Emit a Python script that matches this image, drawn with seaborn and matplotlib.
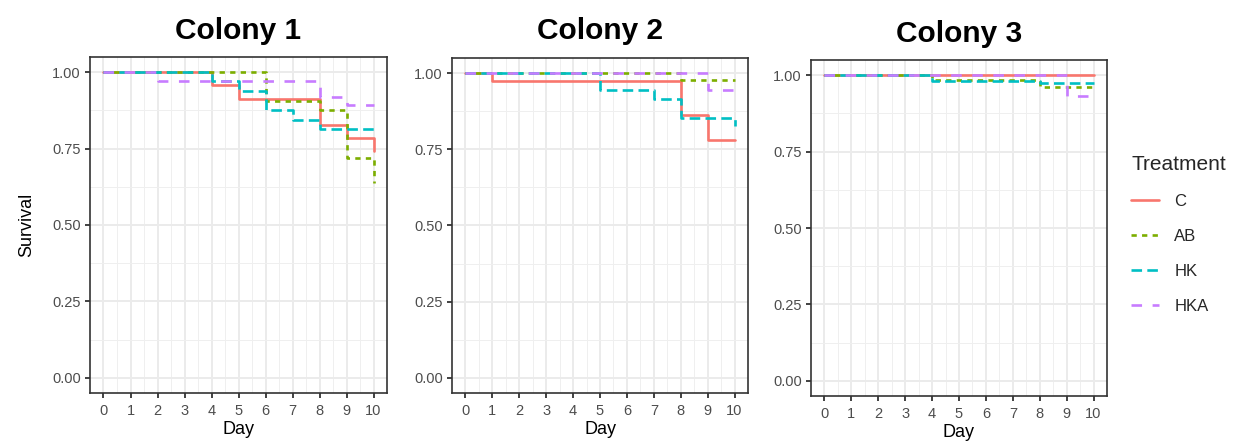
import numpy as np
import pandas as pd
import seaborn as sns
import matplotlib
matplotlib.use("Agg")
import matplotlib.pyplot as plt
from matplotlib.lines import Line2D
from matplotlib.ticker import FixedLocator

# ---------------- data ----------------
days = list(range(0, 11))
treatments = ["C", "AB", "HK", "HKA"]
colonies = ["Colony 1", "Colony 2", "Colony 3"]

c1_C   = [1, 1, 1, 1, 0.957, 0.914, 0.914, 0.914, 0.829, 0.785, 0.742]
c1_AB  = [1, 1, 1, 1, 1, 1, 0.906, 0.906, 0.878, 0.720, 0.636]
c1_HK  = [1, 1, 1, 1, 0.971, 0.939, 0.876, 0.845, 0.814, 0.814, 0.814]
c1_HKA = [1, 1, 0.972, 0.972, 0.972, 0.972, 0.972, 0.972, 0.919, 0.892, 0.892]

c2_C   = [1, 0.974, 0.974, 0.974, 0.974, 0.974, 0.974, 0.974, 0.862, 0.780, 0.780]
c2_AB  = [1, 1, 1, 1, 1, 1, 1, 1, 0.977, 0.977, 0.977]
c2_HK  = [1, 1, 1, 1, 1, 0.944, 0.944, 0.914, 0.854, 0.854, 0.827]
c2_HKA = [1, 1, 1, 1, 1, 1, 1, 1, 1, 0.944, 0.944]

c3_C   = [1, 1, 1, 1, 1, 1, 1, 1, 1, 1, 1]
c3_AB  = [1, 1, 1, 1, 0.984, 0.984, 0.984, 0.984, 0.960, 0.960, 0.960]
c3_HK  = [1, 1, 1, 1, 0.980, 0.980, 0.980, 0.980, 0.976, 0.976, 0.976]
c3_HKA = [1, 1, 1, 1, 1, 1, 1, 1, 1, 0.932, 0.932]

y_ticks = [0.0, 0.25, 0.50, 0.75, 1.00]
y_ticklabels = ["0.00", "0.25", "0.50", "0.75", "1.00"]

series = {
    "Colony 1": {"C": c1_C, "AB": c1_AB, "HK": c1_HK, "HKA": c1_HKA},
    "Colony 2": {"C": c2_C, "AB": c2_AB, "HK": c2_HK, "HKA": c2_HKA},
    "Colony 3": {"C": c3_C, "AB": c3_AB, "HK": c3_HK, "HKA": c3_HKA},
}

rows = []
for col in colonies:
    for t in treatments:
        for d, v in zip(days, series[col][t]):
            rows.append({"Colony": col, "Treatment": t, "Day": d, "Survival": v})
df = pd.DataFrame(rows)

# ---------------- style ----------------
palette = {"C": "#F8766D", "AB": "#7CAE00", "HK": "#00BFC4", "HKA": "#C77CFF"}
dashes = {"C": "", "AB": (2, 2), "HK": (4, 2), "HKA": (4, 4)}
LW = 1.9

sns.set_theme(style="white")
plt.rcParams["font.family"] = ["Liberation Sans", "DejaVu Sans"]

W, H = 1234, 442
fig = plt.figure(figsize=(W / 100, H / 100), dpi=100)

# panel rectangles in pixels: left, top, right, bottom
rects = [(90, 57, 387, 393), (452, 58, 748, 393), (811, 60, 1107, 396)]
title_y = [31, 31, 34]

for i, (col, (l, t, r, b)) in enumerate(zip(colonies, rects)):
    ax = fig.add_axes([l / W, 1 - b / H, (r - l) / W, (b - t) / H])
    sub = df[df["Colony"] == col]
    sns.lineplot(data=sub, x="Day", y="Survival", hue="Treatment", style="Treatment",
                 hue_order=treatments, style_order=treatments, palette=palette,
                 dashes=dashes, estimator=None, drawstyle="steps-post",
                 linewidth=LW, legend=False, ax=ax)
    ax.set_xlim(-0.5, 10.5)
    ax.set_ylim(-0.05, 1.05)
    ax.xaxis.set_major_locator(FixedLocator(days))
    ax.xaxis.set_minor_locator(FixedLocator([d + 0.5 for d in days[:-1]]))
    ax.yaxis.set_major_locator(FixedLocator(y_ticks))
    ax.yaxis.set_minor_locator(FixedLocator([0.125, 0.375, 0.625, 0.875]))
    ax.set_yticklabels(y_ticklabels)
    ax.grid(which="major", color="#EBEBEB", linewidth=1.4)
    ax.grid(which="minor", color="#EFEFEF", linewidth=0.7)
    ax.set_axisbelow(True)
    for s in ax.spines.values():
        s.set_color("#333333")
        s.set_linewidth(1.2)
    ax.tick_params(which="major", direction="out", length=3.5, width=1.3,
                   color="#333333", labelsize=10.5, labelcolor="#4D4D4D", pad=3,
                   bottom=True, left=True)
    ax.tick_params(axis="x", which="major", pad=4.5)
    ax.tick_params(which="minor", length=0)
    ax.set_xlabel("Day", fontsize=13, color="black", labelpad=2)
    ax.set_ylabel("Survival" if i == 0 else "", fontsize=13, color="black", labelpad=12)
    cx = (l + r) / 2
    fig.text(cx / W, 1 - title_y[i] / H, col, ha="center", va="center",
             fontsize=21.5, fontweight="bold", color="black")

handles = [Line2D([0], [0], color=palette[t], linewidth=LW,
                  linestyle="-" if t == "C" else (0, dashes[t])) for t in treatments]
leg = fig.legend(handles, treatments, title="Treatment", loc="upper left",
                 bbox_to_anchor=(1116 / W, 1 - 140 / H), frameon=False,
                 fontsize=12, title_fontsize=15, handlelength=1.7,
                 labelspacing=1.2, handletextpad=0.9, alignment="left")

fig.savefig("out.png", dpi=100)
